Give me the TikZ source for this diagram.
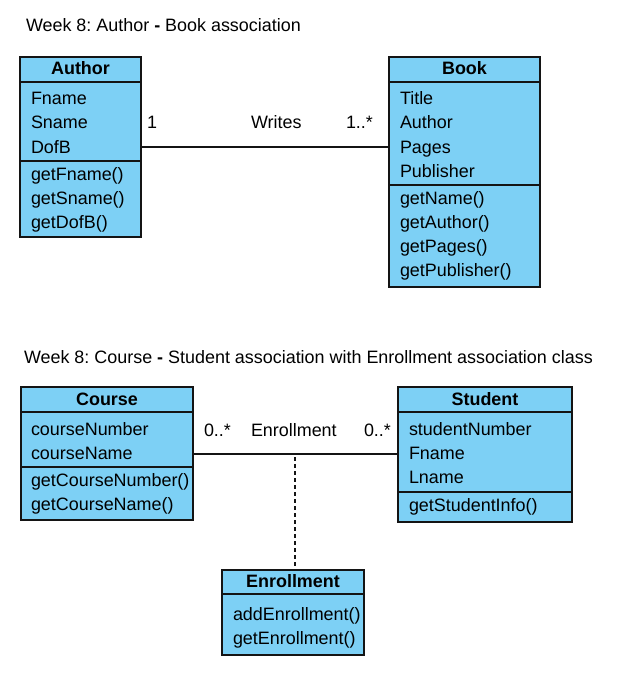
\documentclass[tikz,border=0pt]{standalone}
\usepackage{fontspec}
\setmainfont{Liberation Sans}
\frenchspacing
\definecolor{umlblue}{RGB}{125,208,245}
\definecolor{umlline}{RGB}{20,20,20}
\tikzset{
  cls/.style={draw=umlline, fill=umlblue, line width=1.3bp, inner sep=0pt, outer sep=0pt, anchor=north west},
  txt/.style={inner sep=0pt, outer sep=0pt, anchor=base west, text=black},
  hdr/.style={inner sep=0pt, outer sep=0pt, anchor=base, font=\fontsize{18}{24}\selectfont\bfseries},
  divline/.style={draw=umlline, line width=1.3bp},
  assoc/.style={draw=umlline, line width=1.3bp},
  assocdash/.style={draw=umlline, line width=1.3bp, dash pattern=on 4bp off 3bp},
}
\begin{document}
\begin{tikzpicture}[x=1bp,y=-1bp,font=\fontsize{18}{24}\selectfont\frenchspacing]
\useasboundingbox[fill=white] (0,0) rectangle (644,687);

% titles
\node[txt] (t1) at (26,31.5) {Week 8: Author \textbf{-} Book association};
\node[txt] (t2) at (24,363) {Week 8: Course \textbf{-} Student association with Enrollment association class};

% Author
\node[cls, minimum width=121bp, minimum height=180bp] (author) at (20,57) {};
\draw[divline] (20,82) -- (141,82);
\draw[divline] (20,161) -- (141,161);
\node[hdr] (authorh) at (80.5,75) {Author};
\node[txt] (a1) at (31,105) {Fname};
\node[txt] (a2) at (31,129) {Sname};
\node[txt] (a3) at (31,153) {DofB};
\node[txt] (a4) at (31,180) {getFname()};
\node[txt] (a5) at (31,204) {getSname()};
\node[txt] (a6) at (31,228) {getDofB()};

% Book
\node[cls, minimum width=151bp, minimum height=230bp] (book) at (389,57) {};
\draw[divline] (389,82) -- (540,82);
\draw[divline] (389,185) -- (540,185);
\node[hdr] (bookh) at (464.5,75) {Book};
\node[txt] (b1) at (400,105) {Title};
\node[txt] (b2) at (400,129) {Author};
\node[txt] (b3) at (400,153) {Pages};
\node[txt] (b4) at (400,177) {Publisher};
\node[txt] (b5) at (400,204) {getName()};
\node[txt] (b6) at (400,228) {getAuthor()};
\node[txt] (b7) at (400,252) {getPages()};
\node[txt] (b8) at (400,276) {getPublisher()};

% Author - Book association
\coordinate (ab) at (0,147);
\draw[assoc] (author.east |- ab) -- (book.west |- ab);
\node[txt] (l1) at (147,128.5) {1};
\node[txt] (l2) at (251,128.5) {Writes};
\node[txt] (l3) at (346,128.5) {1..*};

% Course
\node[cls, minimum width=172bp, minimum height=133bp] (course) at (21,387) {};
\draw[divline] (21,412) -- (193,412);
\draw[divline] (21,467) -- (193,467);
\node[hdr] (courseh) at (107,405) {Course};
\node[txt] (c1) at (31,435) {courseNumber};
\node[txt] (c2) at (31,459) {courseName};
\node[txt] (c3) at (31,486) {getCourseNumber()};
\node[txt] (c4) at (31,510) {getCourseName()};

% Student
\node[cls, minimum width=174bp, minimum height=135bp] (student) at (398,387) {};
\draw[divline] (398,412) -- (572,412);
\draw[divline] (398,492) -- (572,492);
\node[hdr] (studenth) at (485,405) {Student};
\node[txt] (s1) at (409,435) {studentNumber};
\node[txt] (s2) at (409,459) {Fname};
\node[txt] (s3) at (409,483) {Lname};
\node[txt] (s4) at (409,511) {getStudentInfo()};

% Enrollment
\node[cls, minimum width=142bp, minimum height=85bp] (enroll) at (222,570) {};
\draw[divline] (222,594) -- (364,594);
\node[hdr] (enrollh) at (293,587.5) {Enrollment};
\node[txt] (e1) at (233,620) {addEnrollment()};
\node[txt] (e2) at (233,644) {getEnrollment()};

% Course - Student association
\coordinate (cs) at (0,454);
\draw[assoc] (course.east |- cs) -- (student.west |- cs);
\coordinate (dtop) at (295,457);
\draw[assocdash] (dtop) -- (enroll.north -| dtop);
\node[txt] (m1) at (204,436) {0..*};
\node[txt] (m2) at (251,436) {Enrollment};
\node[txt] (m3) at (364,436) {0..*};
\end{tikzpicture}
\end{document}
